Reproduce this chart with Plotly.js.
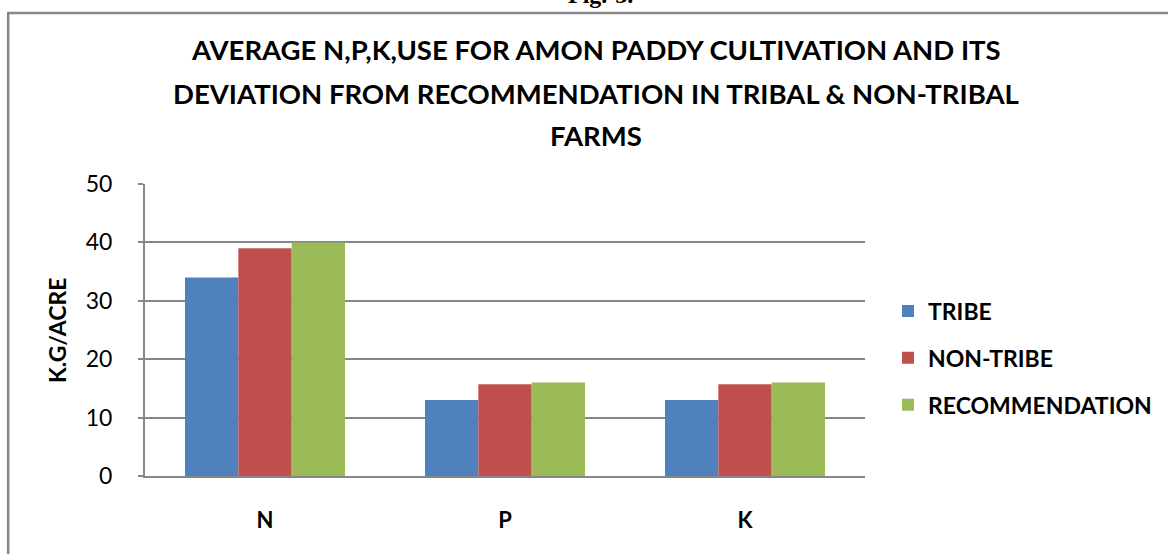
<!DOCTYPE html>
<html>
<head>
<meta charset="utf-8">
<script src="https://cdn.plot.ly/plotly-3.0.1.min.js"></script>
<style>
html,body{margin:0;padding:0;background:#fff;}
#chart{width:1168px;height:554px;}
</style>
</head>
<body>
<div id="chart"></div>
<script>
const categories = ["N", "P", "K"];
const seriesNames = ["TRIBE", "NON-TRIBE", "RECOMMENDATION"];
const tribe = [34, 13, 13];
const nonTribe = [39, 15.7, 15.7];
const recommendation = [40, 16, 16];
const colors = ["#4F81BD", "#C0504D", "#9BBB59"];
const yTicks = [0, 10, 20, 30, 40, 50];
const titleLines = [
  "AVERAGE N,P,K,USE FOR AMON PADDY CULTIVATION AND ITS",
  "DEVIATION FROM RECOMMENDATION IN TRIBAL & NON-TRIBAL",
  "FARMS"
];
const yTitle = "K.G/ACRE";
const figLabel = "Fig.-3.";

const font = "Lato, 'Open Sans', sans-serif";
const seriesValues = [tribe, nonTribe, recommendation];

const traces = seriesValues.map((vals, i) => ({
  type: "bar",
  name: "<b>" + seriesNames[i] + "</b>",
  x: categories,
  y: vals,
  marker: {color: colors[i], line: {width: 0}},
  legendgroup: "g" + i,
  hoverinfo: "x+y+name"
}));

// plot area pixels: x 145..866, y 184..476
const L = 145, R = 866, T = 184, B = 476;
const W = 1168, H = 554;
const px = v => (v - L) / (R - L);
const py = v => (B - v) / (B - T);

const annotations = [];
const titleY = [50, 93, 135];
titleLines.forEach((t, i) => {
  annotations.push({
    text: "<b>" + t + "</b>", xref: "paper", yref: "paper",
    x: px(597), y: py(titleY[i]), xanchor: "center", yanchor: "middle",
    showarrow: false, font: {family: font, size: 27.5, color: "#000"}
  });
});
annotations.push({
  text: "<b>" + yTitle + "</b>", xref: "paper", yref: "paper",
  x: px(57), y: py(330), xanchor: "center", yanchor: "middle", textangle: -90,
  showarrow: false, font: {family: font, size: 23, color: "#000"}
});
annotations.push({
  text: "<b>" + figLabel + "</b>", xref: "paper", yref: "paper",
  x: px(601), y: py(10), xanchor: "center", yanchor: "bottom",
  showarrow: false, font: {family: "'Liberation Serif', serif", size: 24, color: "#000"}
});

const layout = {
  width: W, height: H,
  margin: {l: L, r: W - R, t: T, b: H - B, pad: 0},
  paper_bgcolor: "#fff", plot_bgcolor: "#fff",
  showlegend: true,
  barmode: "group", bargap: 1/3, bargroupgap: 0,
  font: {family: font, color: "#000"},
  xaxis: {
    type: "category",
    showgrid: false, zeroline: false,
    showline: true, linecolor: "#878787", linewidth: 2,
    ticks: "", tickfont: {family: font, size: 22, color: "#000"},
    ticklabelstandoff: 24,
    tickprefix: "<b>", ticksuffix: "</b>"
  },
  yaxis: {
    range: [0, 50], tickvals: yTicks, ticktext: yTicks.map(String),
    showgrid: true, gridcolor: "#878787", gridwidth: 2,
    zeroline: false,
    showline: true, linecolor: "#878787", linewidth: 2,
    ticks: "outside", ticklen: 5, tickcolor: "#878787", tickwidth: 2,
    tickfont: {family: font, size: 23, color: "#000"},
    ticklabelstandoff: 21
  },
  legend: {
    x: px(888), y: py(358), xanchor: "left", yanchor: "middle",
    font: {family: font, size: 23, color: "#000"},
    tracegroupgap: 14, bgcolor: "rgba(0,0,0,0)", borderwidth: 0,
    traceorder: "grouped"
  },
  annotations: annotations,
  shapes: [{
    type: "rect", xref: "paper", yref: "paper",
    x0: px(8), x1: px(1180), y0: py(570), y1: py(13),
    line: {color: "#878787", width: 2.5}, fillcolor: "rgba(0,0,0,0)", layer: "below"
  }]
};

Plotly.newPlot("chart", traces, layout, {displayModeBar: false, staticPlot: true});
</script>
</body>
</html>
